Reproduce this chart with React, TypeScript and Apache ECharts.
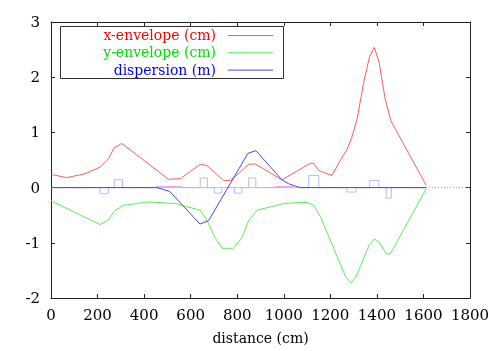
import { useEffect, useRef } from 'react';
import * as echarts from 'echarts';

const seriesNames = ['x-envelope (cm)', 'y-envelope (cm)', 'dispersion (m)'];
const seriesColors = ['#ff5a5a', '#55ee55', '#4444ff'];
const legendTextColors = ['#ff0000', '#00e000', '#0000ff'];

const xEnvelope: [number, number][] = [
  [0, 0.24], [67, 0.18], [146, 0.25], [211, 0.37], [247, 0.52], [271, 0.72], [304, 0.8],
  [505, 0.15], [555, 0.16], [641, 0.42], [670, 0.4], [741, 0.13], [770, 0.13], [791, 0.2],
  [849, 0.42], [877, 0.43], [992, 0.14], [1114, 0.44], [1128, 0.44], [1150, 0.31], [1207, 0.22],
  [1250, 0.55], [1272, 0.69], [1293, 0.92], [1315, 1.24], [1343, 1.9], [1369, 2.38], [1389, 2.54],
  [1410, 2.26], [1435, 1.62], [1460, 1.21], [1612, 0.04],
];

const yEnvelope: [number, number][] = [
  [0, -0.24], [211, -0.67], [243, -0.6], [275, -0.42], [311, -0.32], [418, -0.26], [536, -0.29],
  [641, -0.41], [672, -0.61], [705, -0.91], [736, -1.1], [784, -1.1], [820, -0.91], [849, -0.6],
  [885, -0.41], [999, -0.29], [1071, -0.27], [1100, -0.27], [1128, -0.32], [1157, -0.52],
  [1265, -1.61], [1288, -1.73], [1310, -1.62], [1367, -1.04], [1389, -0.93], [1410, -0.99],
  [1440, -1.2], [1458, -1.2], [1612, -0.02],
];

const dispersion: [number, number][] = [
  [0, 0], [455, 0], [510, -0.07], [640, -0.66], [677, -0.6], [846, 0.62], [880, 0.67],
  [992, 0.14], [1021, 0.07], [1049, 0.03], [1070, 0], [1612, 0],
];

// magnet boxes: [start, end, height]
const magnets: [number, number, number][] = [
  [211, 247, -0.11], [272, 307, 0.145], [641, 672, 0.175], [702, 734, -0.1],
  [788, 820, -0.1], [849, 880, 0.175], [1107, 1150, 0.22], [1272, 1310, -0.08],
  [1369, 1408, 0.13], [1440, 1462, -0.19],
];
// small elements drawn as very low pink boxes
const smallElements: [number, number, number][] = [
  [452, 562, 0.02], [963, 1041, 0.02],
];
const latticeEnd = 1612;

const xTicks = { min: 0, max: 1800, interval: 200 };
const yTicks = { min: -2, max: 3, interval: 1 };

const FONT = 'DejaVu Serif';

function steps(boxes: [number, number, number][], start: number, end: number): [number, number][] {
  const pts: [number, number][] = [[start, 0]];
  for (const [a, b, h] of boxes) {
    pts.push([a, 0], [a, h], [b, h], [b, 0]);
  }
  pts.push([end, 0]);
  return pts;
}

export default function App() {
  const ref = useRef<HTMLDivElement>(null);
  useEffect(() => {
    const chart = echarts.init(ref.current!, null, { renderer: 'svg' });
    const axisLine = { show: true, onZero: false, lineStyle: { color: '#222', width: 1 } };
    const axisTick = { show: true, inside: true, length: 4, lineStyle: { color: '#222', width: 1 } };
    const label = { color: '#000', fontSize: 15, fontFamily: FONT, formatter: (v: number) => String(v) };
    const line = (name: string, data: [number, number][], color: string, z: number) => ({
      name, type: 'line', data, symbol: 'none', z, silent: true,
      lineStyle: { color, width: 1 }, itemStyle: { color },
    });
    const legendRows = seriesNames.map((n, i) => {
      const y = 35 + i * 17.3;
      return [
        { type: 'text', x: 216, y, style: { text: n, fill: legendTextColors[i], fontSize: 14, fontFamily: FONT, textAlign: 'right', textVerticalAlign: 'middle' } },
        { type: 'line', shape: { x1: 228, y1: y + 0.5, x2: 273, y2: y + 0.5 }, style: { stroke: seriesColors[i], lineWidth: 1 } },
      ];
    }).flat();
    const small = steps(smallElements, smallElements[0][0], smallElements[smallElements.length - 1][1]);
    chart.setOption({
      animation: false,
      textStyle: { fontFamily: FONT },
      grid: { left: 51, right: 31, top: 22, bottom: 53, containLabel: false },
      xAxis: [
        { type: 'value', position: 'bottom', ...xTicks, axisLine, axisTick, axisLabel: { ...label, margin: 9 },
          splitLine: { show: false }, name: 'distance (cm)', nameLocation: 'middle', nameGap: 33,
          nameTextStyle: { color: '#000', fontSize: 14, fontFamily: FONT } },
        { type: 'value', position: 'top', ...xTicks, axisLine, axisTick, axisLabel: { show: false }, splitLine: { show: false } },
      ],
      yAxis: [
        { type: 'value', position: 'left', ...yTicks, axisLine, axisTick, axisLabel: { ...label, margin: 11 }, splitLine: { show: false } },
        { type: 'value', position: 'right', ...yTicks, axisLine, axisTick, axisLabel: { show: false }, splitLine: { show: false } },
      ],
      series: [
        { type: 'line', data: [[xTicks.min, 0], [xTicks.max, 0]], symbol: 'none', z: 1, silent: true,
          lineStyle: { color: '#a0a0a0', width: 1, type: [1, 2] } },
        line(seriesNames[0], xEnvelope, seriesColors[0], 2),
        line(seriesNames[1], yEnvelope, seriesColors[1], 2),
        line('small elements', small.filter((p, i) => i > 0 && i < small.length - 1), '#f0a8f0', 2),
        line('magnets', steps(magnets, 0, latticeEnd), '#a8c0ff', 2),
        line(seriesNames[2], dispersion, seriesColors[2], 3),
      ],
      graphic: [
        { type: 'rect', shape: { x: 60.5, y: 26.5, width: 223, height: 52 }, style: { fill: '#fff', stroke: '#333', lineWidth: 1 }, z: 10 },
        ...legendRows.map((e: any) => ({ ...e, z: 11 })),
      ],
    });
    return () => chart.dispose();
  }, []);
  return <div ref={ref} style={{ position: 'fixed', left: 0, top: 0, width: 501, height: 351 }} />;
}
